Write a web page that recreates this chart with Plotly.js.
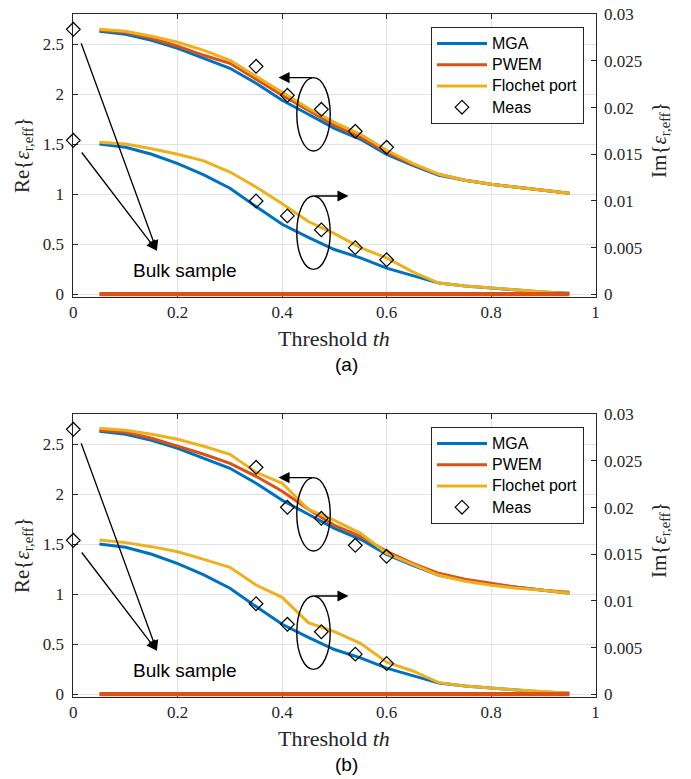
<!DOCTYPE html>
<html>
<head>
<meta charset="utf-8">
<script src="https://cdn.plot.ly/plotly-3.0.1.min.js"></script>
<style>html,body{margin:0;padding:0;background:#fff;}#chart{width:691px;height:779px;}</style>
</head>
<body>
<div id="chart"></div>
<script>
// ---------- data ----------
const thresholds = [0.05,0.1,0.15,0.2,0.25,0.3,0.35,0.4,0.45,0.5,0.55,0.6,0.65,0.7,0.75,0.8,0.85,0.9,0.95];

// panel (a)
const mgaReA     = [2.63,2.60,2.54,2.46,2.36,2.26,2.11,1.94,1.80,1.66,1.55,1.40,1.29,1.19,1.14,1.10,1.07,1.04,1.01];
const pwemReA    = [2.64,2.62,2.56,2.48,2.39,2.31,2.15,1.99,1.84,1.69,1.57,1.42,1.30,1.20,1.14,1.10,1.07,1.04,1.01];
const flochetReA = [2.65,2.63,2.58,2.52,2.44,2.34,2.18,2.02,1.86,1.72,1.60,1.44,1.31,1.20,1.14,1.10,1.07,1.04,1.01];
const mgaImA     = [0.0161,0.01575,0.0150,0.0140,0.0128,0.01136,0.0094,0.0075,0.0061,0.0048,0.0039,0.0028,0.0020,0.0012,0.0009,0.00065,0.00045,0.00025,0.0001];
const pwemImA    = [0,0,0,0,0,0,0,0,0,0,0,0,0,0,0,0,0,0,0];
const flochetImA = [0.0163,0.0161,0.0156,0.0150,0.0143,0.0131,0.0115,0.0097,0.0078,0.0065,0.0050,0.0039,0.0024,0.0012,0.0009,0.0007,0.0005,0.0003,0.00005];
const measXA  = [0,0.35,0.41,0.475,0.54,0.6];
const measReA = [2.65,2.28,1.99,1.85,1.63,1.47];
const measImA = [0.0165,0.0100,0.0084,0.0069,0.0050,0.0037];

// panel (b)
const mgaReB     = [2.63,2.60,2.54,2.46,2.36,2.26,2.11,1.94,1.80,1.66,1.55,1.40,1.29,1.19,1.14,1.10,1.07,1.04,1.01];
const pwemReB    = [2.64,2.62,2.56,2.48,2.40,2.31,2.18,2.03,1.85,1.69,1.58,1.43,1.31,1.21,1.15,1.11,1.07,1.04,1.02];
const flochetReB = [2.66,2.64,2.60,2.55,2.48,2.40,2.22,2.11,1.85,1.74,1.61,1.41,1.30,1.19,1.13,1.09,1.06,1.04,1.01];
const mgaImB     = [0.0161,0.01575,0.0150,0.0140,0.0128,0.01136,0.0094,0.0075,0.0061,0.0048,0.0039,0.0028,0.0020,0.0012,0.0009,0.00065,0.00045,0.00025,0.0001];
const pwemImB    = [0,0,0,0,0,0,0,0,0,0,0,0,0,0,0,0,0,0,0];
const flochetImB = [0.01653,0.01625,0.01582,0.01528,0.01446,0.01361,0.01171,0.01039,0.00768,0.00671,0.00546,0.00345,0.00250,0.00125,0.0009,0.00064,0.00045,0.0003,0.0001];
const measXB  = [0,0.35,0.41,0.475,0.54,0.6];
const measReB = [2.65,2.27,1.87,1.76,1.49,1.38];
const measImB = [0.0165,0.0097,0.0075,0.0067,0.0043,0.0033];

const seriesNames = ['MGA','PWEM','Flochet port','Meas'];
const xTickVals = [0,0.2,0.4,0.6,0.8,1];
const reTickVals = [0,0.5,1,1.5,2,2.5];
const imTickVals = [0,0.005,0.01,0.015,0.02,0.025,0.03];

// ---------- styles ----------
const C = {mga:'#0072BD', pwem:'#D95319', flo:'#EDB120'};
const LW = 3;
const legName = n => '<span style="font-size:16px">' + n + '</span>';

function panel(xa, yRe, yIm, leg, d) {
  const t = [];
  const line = (y, yax, col, name, show, w) => ({
    type:'scatter', mode:'lines', x:thresholds, y:y, xaxis:xa, yaxis:yax,
    line:{color:col, width:w||LW}, name:legName(name), showlegend:show, legend:leg, hoverinfo:'skip'
  });
  t.push(line(d.mgaRe, yRe, C.mga, seriesNames[0], true));
  t.push(line(d.pwemRe, yRe, C.pwem, seriesNames[1], true));
  t.push(line(d.floRe, yRe, C.flo, seriesNames[2], true));
  t.push(line(d.mgaIm, yIm, C.mga, seriesNames[0], false));
  t.push(line(d.floIm, yIm, C.flo, seriesNames[2], false));
  t.push(line(d.pwemIm, yIm, C.pwem, seriesNames[1], false, 4.4));
  const mk = {symbol:'diamond-open', size:10.5, color:'#000', line:{width:1.2, color:'#000'}};
  t.push({type:'scatter', mode:'markers', x:d.measX, y:d.measRe, xaxis:xa, yaxis:yRe, marker:mk,
          name:legName(seriesNames[3]), showlegend:true, legend:leg, cliponaxis:false});
  t.push({type:'scatter', mode:'markers', x:d.measX, y:d.measIm, xaxis:xa, yaxis:yIm, marker:mk,
          name:legName(seriesNames[3]), showlegend:false, legend:leg, cliponaxis:false});
  return t;
}

const data = [].concat(
  panel('x','y','y2','legend',{mgaRe:mgaReA,pwemRe:pwemReA,floRe:flochetReA,mgaIm:mgaImA,pwemIm:pwemImA,floIm:flochetImA,measX:measXA,measRe:measReA,measIm:measImA}),
  panel('x2','y3','y4','legend2',{mgaRe:mgaReB,pwemRe:pwemReB,floRe:flochetReB,mgaIm:mgaImB,pwemIm:pwemImB,floIm:flochetImB,measX:measXB,measRe:measReB,measIm:measImB})
);

// ---------- layout ----------
const W = 691, H = 779;
const px = v => v / W;
const py = v => 1 - v / H;
const serif = '"Liberation Serif", "Times New Roman", serif';
const sans = '"Liberation Sans", Arial, Helvetica, sans-serif';
const tickFont = {family:serif, size:17, color:'#262626'};
const xDom = [px(73.3), px(595.5)];
const domA = [py(296.5), py(14.3)];
const domB = [py(696.5), py(414.3)];
const reRange = [-0.022, 2.8];
const imRange = [-0.0002357, 0.03];

function xAxis(anchor) {
  return {domain:xDom, anchor:anchor, range:[0,1], tickmode:'array', tickvals:xTickVals,
    ticks:'inside', ticklen:5, tickcolor:'#262626', showline:true, linecolor:'#262626', linewidth:1,
    mirror:'ticks', showgrid:true, gridcolor:'#e3e3e3', gridwidth:1, zeroline:false,
    tickfont:tickFont, ticklabelstandoff:0, fixedrange:true, layer:'below traces'};
}
function reAxis(anchor, dom) {
  return {domain:dom, anchor:anchor, range:reRange, tickmode:'array', tickvals:reTickVals,
    ticks:'inside', ticklen:5, tickcolor:'#262626', showline:true, linecolor:'#262626', linewidth:1,
    showgrid:true, gridcolor:'#e3e3e3', gridwidth:1, zeroline:false, tickfont:tickFont,
    ticklabelstandoff:5, fixedrange:true, layer:'below traces'};
}
function imAxis(anchor, over) {
  return {overlaying:over, anchor:anchor, side:'right', range:imRange, tickmode:'array', tickvals:imTickVals,
    ticks:'inside', ticklen:5, tickcolor:'#262626', showline:true, linecolor:'#262626', linewidth:1,
    showgrid:false, zeroline:false, tickfont:tickFont, ticklabelstandoff:4, fixedrange:true, layer:'below traces'};
}

function panelNotes(xr, yr) {
  const arr = (x, y, ax, ay, size) => ({xref:xr, yref:yr, axref:xr, ayref:yr, x:x, y:y, ax:ax, ay:ay,
     text:'', showarrow:true, arrowhead:2, arrowsize:size||1.4, arrowwidth:1.3, arrowcolor:'#000', standoff:0, startstandoff:0});
  return [
    arr(0.16, 0.436, 0.014, 2.526, 1.6),
    arr(0.16, 0.436, 0.014, 1.433, 1.6),
    arr(0.393, 2.167, 0.46, 2.167, 1.7),
    arr(0.527, 0.983, 0.46, 0.983, 1.7),
    {xref:xr, yref:yr, x:0.213, y:0.243, text:'Bulk sample', showarrow:false,
     font:{family:sans, size:19, color:'#000'}, xanchor:'center', yanchor:'middle'}
  ];
}

const note = (x, y, text, font, angle) => ({xref:'paper', yref:'paper', x:px(x), y:py(y), text:text,
  textangle:angle||0, showarrow:false, xanchor:'center', yanchor:'middle', font:font});
const yTitleFont = {family:serif, size:21, color:'#262626'};
const xTitleFont = {family:serif, size:22, color:'#262626'};
const capFont = {family:sans, size:19, color:'#000'};

const annotations = [].concat(
  panelNotes('x','y'),
  panelNotes('x2','y3'),
  [
    note(23, 155, 'Re{<i>ε</i><sub>r,eff</sub>}', yTitleFont, -90),
    note(660, 140, 'Im{<i>ε</i><sub>r,eff</sub>}', yTitleFont, -90),
    note(23, 555, 'Re{<i>ε</i><sub>r,eff</sub>}', yTitleFont, -90),
    note(660, 540, 'Im{<i>ε</i><sub>r,eff</sub>}', yTitleFont, -90),
    note(334, 338, 'Threshold <i>th</i>', xTitleFont),
    note(334, 738, 'Threshold <i>th</i>', xTitleFont),
    note(347, 364, '(a)', capFont),
    note(347, 764, '(b)', capFont)
  ]
);

function ellipses(xr, yr) {
  return [
    {type:'circle', xref:xr, yref:yr, x0:0.428, x1:0.492, y0:1.433, y1:2.167, line:{color:'#000', width:1.4}},
    {type:'circle', xref:xr, yref:yr, x0:0.428, x1:0.492, y0:0.249, y1:0.983, line:{color:'#000', width:1.4}}
  ];
}

const legendStyle = (top) => ({x:px(431), y:py(top), xanchor:'left', yanchor:'top', bgcolor:'#fff',
  bordercolor:'#262626', borderwidth:1, font:{family:sans, size:14, color:'#000'}, itemwidth:50,
  tracegroupgap:0, traceorder:'normal'});

const layout = {
  width:W, height:H, margin:{l:0, r:0, t:0, b:0}, paper_bgcolor:'#fff', plot_bgcolor:'#fff',
  showlegend:true,
  xaxis:xAxis('y'), yaxis:reAxis('x', domA), yaxis2:imAxis('x','y'),
  xaxis2:xAxis('y3'), yaxis3:reAxis('x2', domB), yaxis4:imAxis('x2','y3'),
  legend:legendStyle(27), legend2:legendStyle(427),
  annotations:annotations,
  shapes:[].concat(ellipses('x','y'), ellipses('x2','y3'))
};

Plotly.newPlot('chart', data, layout, {staticPlot:true, displayModeBar:false});
</script>
</body>
</html>
